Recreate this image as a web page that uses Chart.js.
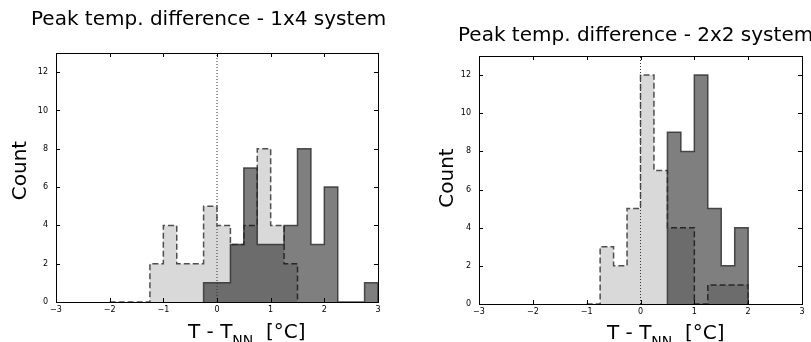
<!DOCTYPE html>
<html>
<head>
<meta charset="utf-8">
<script src="https://cdn.jsdelivr.net/npm/chart.js@4.4.1/dist/chart.umd.min.js"></script>
<style>
  body { margin: 0; background: #fff; width: 811px; height: 342px; overflow: hidden; position: relative; }
  canvas { position: absolute; top: 0; }
  #c1 { left: 0; }
  #c2 { left: 405px; }
</style>
</head>
<body>
<canvas id="c1" width="405" height="342"></canvas>
<canvas id="c2" width="406" height="342"></canvas>
<script>
// bin width of every histogram
const binWidth = 0.25;
const xTicks = [-3, -2, -1, 0, 1, 2, 3];
const yTicks = [0, 2, 4, 6, 8, 10, 12];

// 1x4 system
const start1x4Light = -2.0;
const counts1x4Light = [0, 0, 0, 2, 4, 2, 2, 5, 4, 3, 4, 8, 4, 2];
const start1x4Dark = -0.25;
const counts1x4Dark = [1, 1, 3, 7, 3, 3, 4, 8, 3, 6, 0, 0, 1];

// 2x2 system
const start2x2Light = -1.0;
const counts2x2Light = [0, 3, 2, 5, 12, 7, 4, 4, 0, 1, 1, 1];
const start2x2Dark = 0.5;
const counts2x2Dark = [9, 8, 12, 5, 2, 4];

const FONT = "'DejaVu Sans', sans-serif";

function stepPoints(start, counts) {
    let pts = [{x: start, y: 0}];
    counts.forEach((c, i) => pts.push({x: start + i * binWidth, y: c}));
    let end = start + counts.length * binWidth;
    pts.push({x: end, y: counts[counts.length - 1]});
    pts.push({x: end, y: 0});
    return pts;
}

// frame + inward ticks, like matplotlib
const framePlugin = {
    id: 'frame',
    afterDatasetsDraw(chart) {
        const {ctx, chartArea: a, scales: {x, y}} = chart;
        ctx.save();
        ctx.strokeStyle = '#000';
        ctx.lineWidth = 1;
        xTicks.forEach(v => {
            let px = Math.round(x.getPixelForValue(v)) + 0.5;
            ctx.beginPath();
            ctx.moveTo(px, a.bottom); ctx.lineTo(px, a.bottom - 4);
            ctx.moveTo(px, a.top); ctx.lineTo(px, a.top + 4);
            ctx.stroke();
        });
        yTicks.forEach(v => {
            let py = Math.round(y.getPixelForValue(v)) + 0.5;
            ctx.beginPath();
            ctx.moveTo(a.left, py); ctx.lineTo(a.left + 4, py);
            ctx.moveTo(a.right, py); ctx.lineTo(a.right - 4, py);
            ctx.stroke();
        });
        ctx.strokeRect(Math.round(a.left) + 0.5, Math.round(a.top) + 0.5, Math.round(a.width), Math.round(a.height));
        ctx.restore();
    }
};

// title, axis labels (x label needs a subscript)
const textPlugin = {
    id: 'texts',
    afterDraw(chart, args, opts) {
        const {ctx, chartArea: a} = chart;
        ctx.save();
        ctx.fillStyle = '#000';
        ctx.textBaseline = 'alphabetic';
        ctx.font = '20px ' + FONT;
        ctx.textAlign = 'left';
        ctx.fillText(opts.title, opts.titleX, opts.titleY);

        ctx.font = '20px ' + FONT;
        ctx.save();
        ctx.translate(opts.countX, (a.top + a.bottom) / 2 + opts.countDy);
        ctx.rotate(-Math.PI / 2);
        ctx.textAlign = 'center';
        ctx.fillText('Count', 0, 0);
        ctx.restore();

        let x0 = a.left + opts.xlabDx;
        let base = opts.xlabY;
        ctx.font = '20px ' + FONT;
        ctx.fillText('T - T', x0, base);
        x0 += ctx.measureText('T - T').width;
        ctx.font = '14px ' + FONT;
        ctx.fillText('NN', x0, base + 7);
        x0 += ctx.measureText('NN').width;
        ctx.font = '20px ' + FONT;
        ctx.fillText('  [°C]', x0, base);
        ctx.restore();
    }
};

function makeChart(id, lightStart, lightCounts, darkStart, darkCounts, padding, texts) {
    new Chart(document.getElementById(id), {
        type: 'line',
        data: {
            datasets: [
                {
                    data: [{x: 0, y: 0}, {x: 0, y: 13}],
                    borderColor: '#333',
                    borderWidth: 1,
                    borderDash: [1, 2],
                    pointRadius: 0,
                    fill: false,
                },
                {
                    data: stepPoints(darkStart, darkCounts),
                    stepped: 'before',
                    borderColor: 'rgba(40,40,40,0.8)',
                    borderWidth: 1.5,
                    backgroundColor: 'rgba(0,0,0,0.5)',
                    pointRadius: 0,
                    fill: 'origin',
                },
                {
                    data: stepPoints(lightStart, lightCounts),
                    stepped: 'before',
                    borderColor: 'rgba(50,50,50,0.85)',
                    borderWidth: 1.5,
                    borderDash: [6, 3],
                    backgroundColor: 'rgba(0,0,0,0.15)',
                    pointRadius: 0,
                    fill: 'origin',
                },
            ],
        },
        options: {
            responsive: false,
            animation: false,
            layout: { padding: padding },
            plugins: {
                legend: { display: false },
                tooltip: { enabled: false },
                texts: texts,
            },
            scales: {
                x: {
                    type: 'linear',
                    min: -3,
                    max: 3,
                    afterBuildTicks: s => { s.ticks = xTicks.map(v => ({value: v})); },
                    afterFit: s => { s.height = 20; },
                    grid: { display: false, drawTicks: false },
                    border: { display: false },
                    ticks: {
                        padding: 3,
                        color: '#000',
                        font: { family: FONT, size: 8 },
                        callback: v => String(v).replace('-', '\u2212'),
                    },
                },
                y: {
                    min: 0,
                    max: 13,
                    afterBuildTicks: s => { s.ticks = yTicks.map(v => ({value: v})); },
                    afterFit: s => { s.width = 20; },
                    grid: { display: false, drawTicks: false },
                    border: { display: false },
                    ticks: {
                        padding: 8,
                        color: '#000',
                        font: { family: FONT, size: 8 },
                    },
                },
            },
        },
        plugins: [framePlugin, textPlugin],
    });
}

makeChart('c1', start1x4Light, counts1x4Light, start1x4Dark, counts1x4Dark,
    { left: 36, top: 53, right: 27, bottom: 20 },
    { title: 'Peak temp. difference - 1x4 system', titleX: 31, titleY: 25,
      countX: 26, countDy: -7, xlabDx: 132, xlabY: 338 });

makeChart('c2', start2x2Light, counts2x2Light, start2x2Dark, counts2x2Dark,
    { left: 54, top: 56, right: 9, bottom: 18 },
    { title: 'Peak temp. difference - 2x2 system', titleX: 53, titleY: 41,
      countX: 48, countDy: -2, xlabDx: 128, xlabY: 339 });
</script>
</body>
</html>
